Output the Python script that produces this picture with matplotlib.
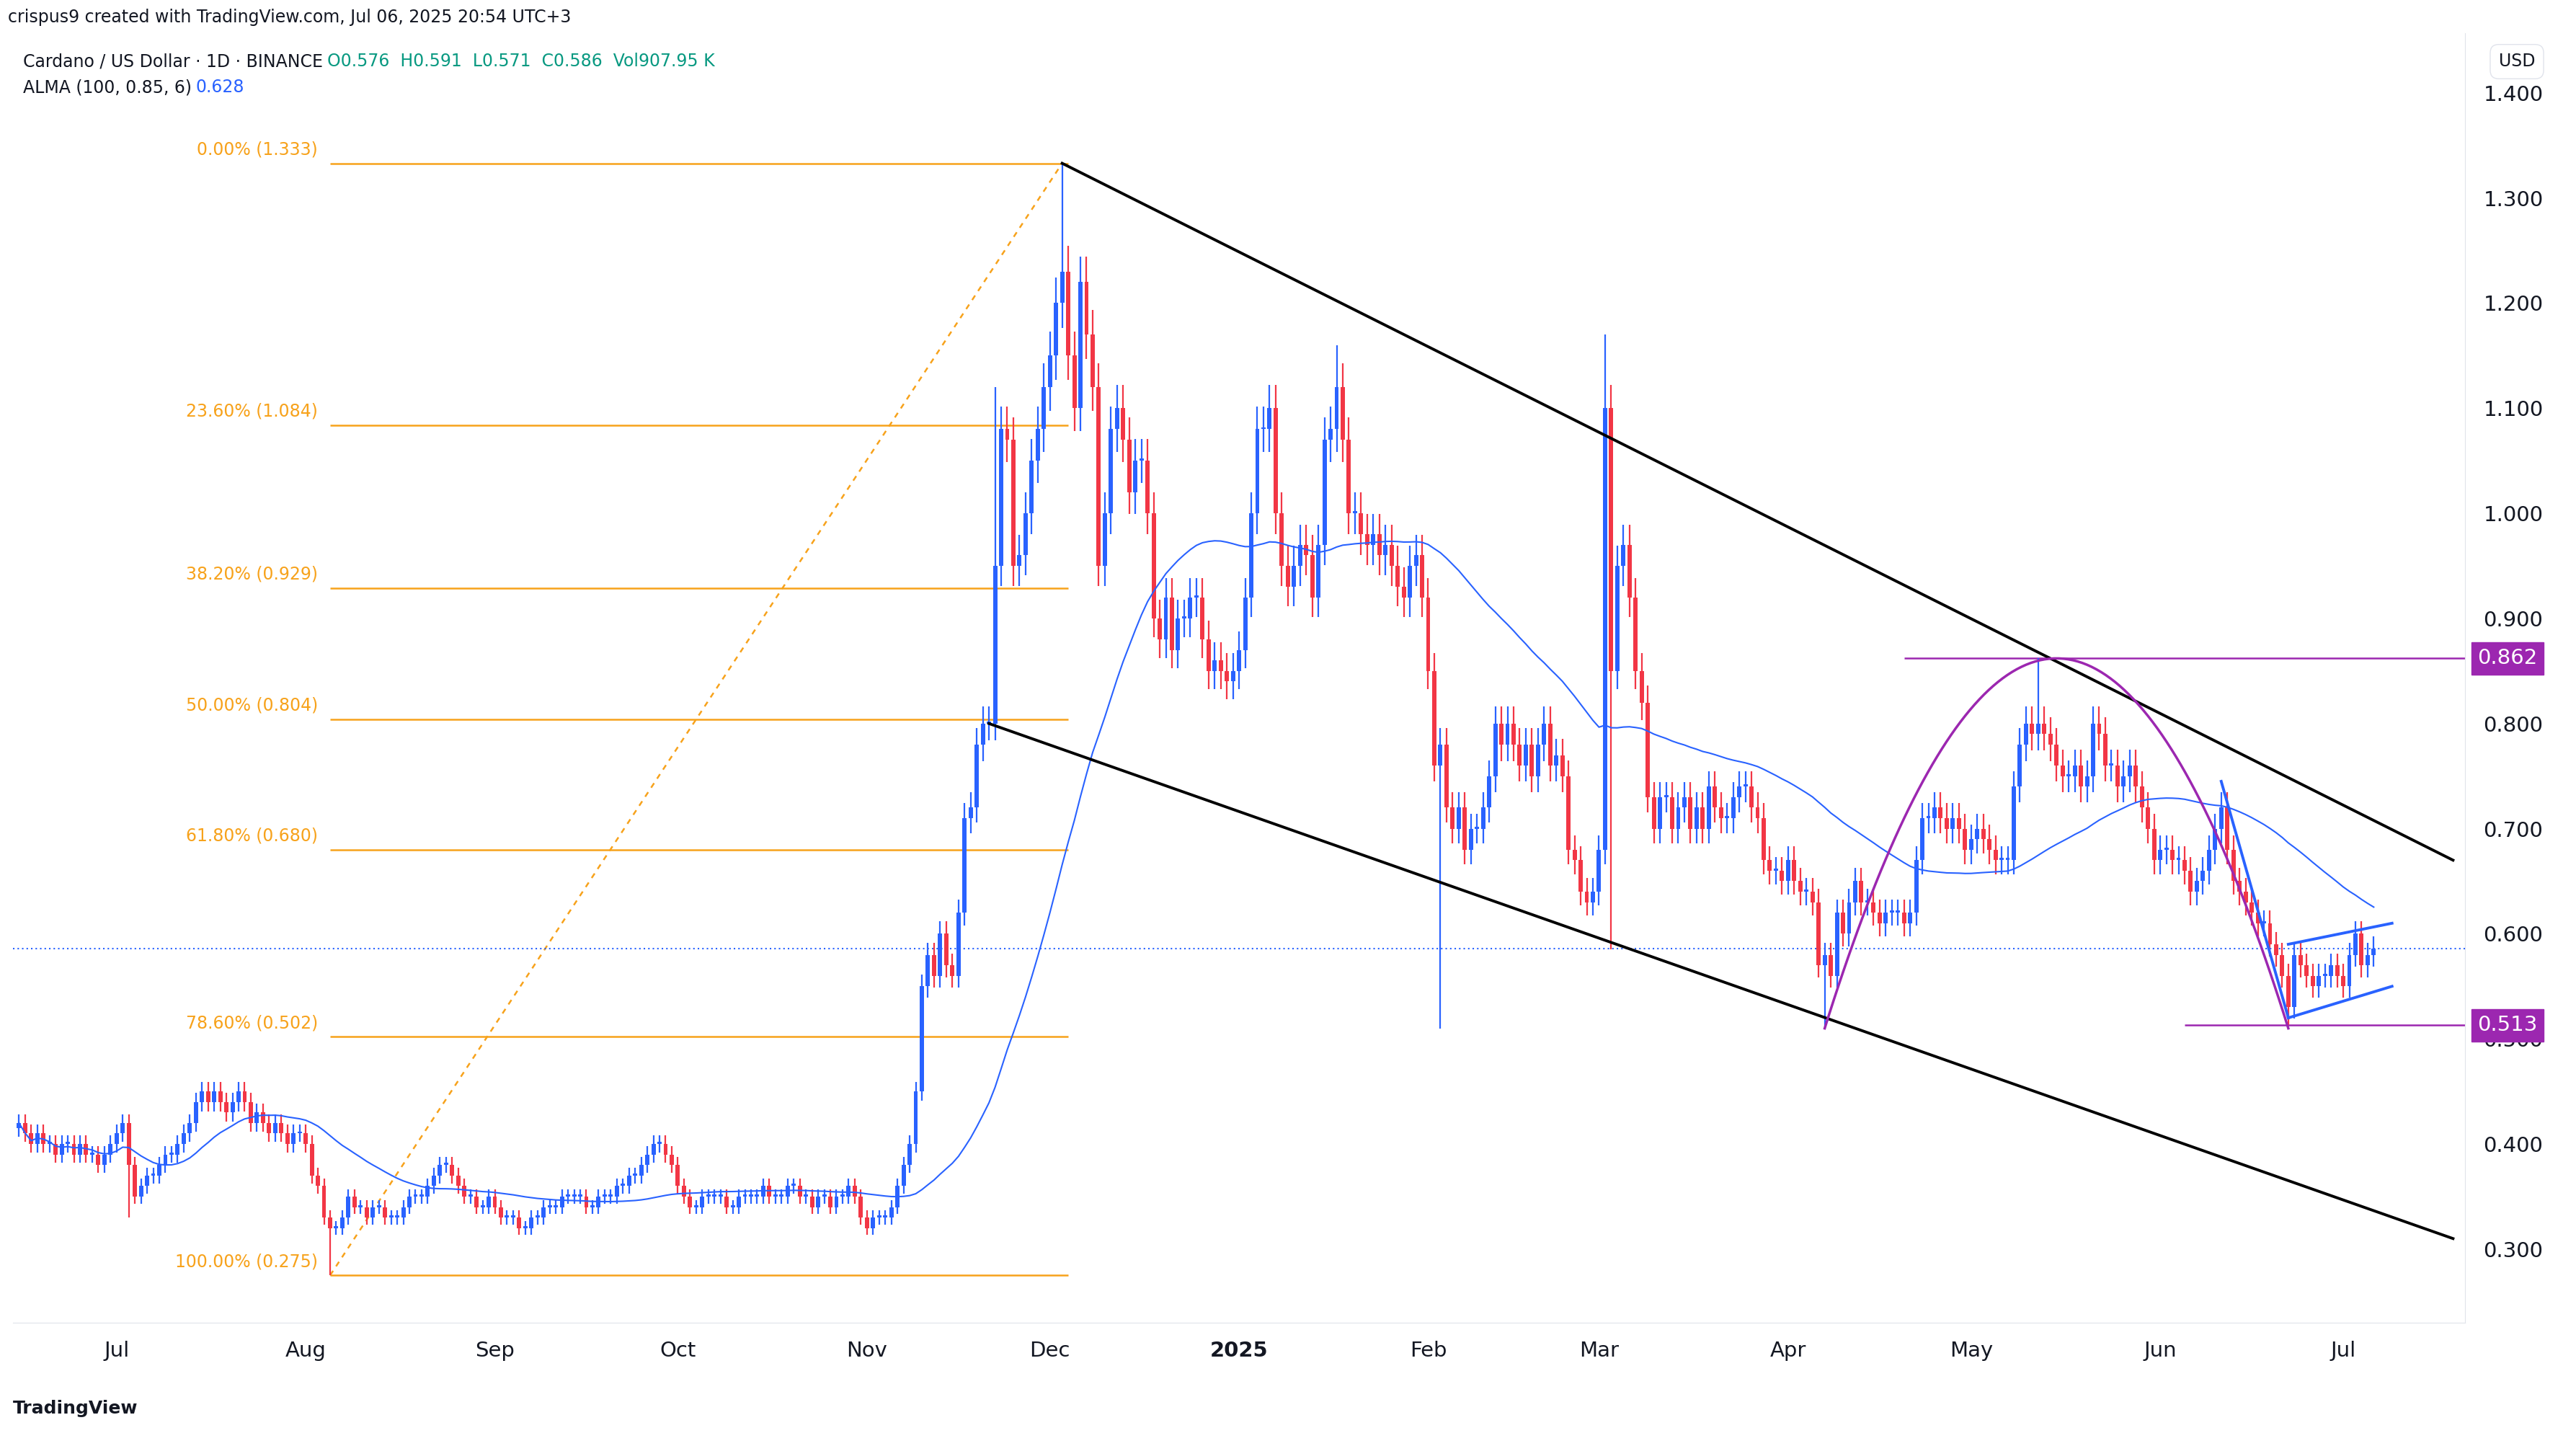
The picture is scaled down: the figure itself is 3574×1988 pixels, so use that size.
import numpy as np, pandas as pd, matplotlib
matplotlib.use("Agg")
import matplotlib.pyplot as plt, matplotlib.dates as mdates

# daily closes per month (start date, values)
months = [
 ("2024-06-15",[.42,.41,.40,.41,.40,.40,.39,.40,.40,.39,.40,.39,.39,.38,.39,.40]),
 ("2024-07-01",[.41,.42,.38,.35,.36,.37,.37,.38,.39,.39,.40,.41,.42,.44,.45,.44,.45,.44,.43,.44,.45,.44,.42,.43,.42,.41,.42,.41,.40,.41,.41]),
 ("2024-08-01",[.40,.37,.36,.33,.32,.32,.33,.35,.34,.34,.33,.34,.34,.33,.33,.33,.34,.35,.35,.35,.36,.37,.38,.38,.37,.36,.35,.35,.34,.34,.35]),
 ("2024-09-01",[.34,.33,.33,.33,.32,.32,.33,.33,.34,.34,.34,.35,.35,.35,.35,.34,.34,.35,.35,.35,.36,.36,.37,.37,.38,.39,.40,.40,.39,.38]),
 ("2024-10-01",[.36,.35,.34,.34,.35,.35,.35,.35,.34,.34,.35,.35,.35,.35,.36,.35,.35,.35,.36,.36,.35,.35,.34,.35,.35,.34,.35,.35,.36,.35,.33]),
 ("2024-11-01",[.32,.33,.33,.33,.34,.36,.38,.40,.45,.55,.58,.56,.60,.57,.56,.62,.71,.72,.78,.80,.80,.95,1.08,1.07,.95,.96,1.0,1.05,1.08,1.12]),
 ("2024-12-01",[1.15,1.20,1.23,1.15,1.10,1.22,1.17,1.12,.95,1.0,1.08,1.10,1.07,1.02,1.05,1.05,1.0,.90,.88,.92,.87,.90,.90,.92,.92,.88,.85,.86,.85,.84,.85]),
 ("2025-01-01",[.87,.92,1.0,1.08,1.08,1.10,1.0,.95,.93,.95,.97,.96,.92,.97,1.07,1.08,1.12,1.07,1.0,1.0,.98,.97,.98,.96,.97,.95,.93,.92,.95,.96,.92]),
 ("2025-02-01",[.85,.76,.78,.72,.70,.72,.68,.70,.70,.72,.75,.80,.78,.80,.78,.76,.78,.75,.78,.80,.76,.77,.75,.68,.67,.64,.63,.64]),
 ("2025-03-01",[.68,1.10,.85,.95,.97,.92,.85,.82,.73,.70,.73,.73,.70,.72,.73,.70,.72,.70,.74,.72,.71,.71,.73,.74,.74,.72,.71,.67,.66,.66,.65]),
 ("2025-04-01",[.67,.65,.64,.64,.63,.57,.58,.56,.62,.60,.63,.65,.63,.63,.62,.61,.62,.62,.62,.61,.62,.67,.71,.71,.72,.71,.70,.71,.70,.68]),
 ("2025-05-01",[.69,.70,.69,.68,.67,.67,.67,.74,.78,.80,.79,.80,.79,.78,.76,.75,.75,.76,.74,.75,.80,.79,.76,.76,.74,.75,.76,.74,.72,.70,.67]),
 ("2025-06-01",[.68,.68,.67,.67,.66,.64,.65,.66,.68,.70,.72,.68,.65,.64,.63,.62,.61,.61,.59,.58,.56,.53,.58,.57,.56,.55,.56,.56,.57,.56]),
 ("2025-07-01",[.55,.58,.60,.57,.58,.586]),
]
wick_high = {"2024-12-03":1.333,"2025-03-02":1.17,"2025-05-12":0.862,"2024-11-22":1.12,"2025-01-17":1.16}
wick_low = {"2024-08-05":0.275,"2025-02-03":0.51,"2025-04-07":0.51,"2025-06-22":0.513,"2025-03-03":0.585,"2024-07-03":0.33}
fib_levels = [1.333,1.084,0.929,0.804,0.680,0.502,0.275]
fib_labels = ["0.00%","23.60%","38.20%","50.00%","61.80%","78.60%","100.00%"]

dates=[];closes=[]
for s,v in months:
    dates+=list(pd.date_range(s,periods=len(v)));closes+=v
closes=np.array(closes);x=mdates.date2num(dates)
opens=np.r_[closes[0]-0.005,closes[:-1]]
hi=np.maximum(opens,closes)*1.02;lo=np.minimum(opens,closes)*0.98
for k,v in wick_high.items():
    i=dates.index(pd.Timestamp(k));hi[i]=v
for k,v in wick_low.items():
    i=dates.index(pd.Timestamp(k));lo[i]=v

def alma(c,n=100,off=0.85,sig=6):
    out=[]
    for i in range(len(c)):
        w=c[max(0,i-n+1):i+1];m=len(w);mm=off*(m-1);s=m/sig
        k=np.exp(-((np.arange(m)-mm)**2)/(2*s*s));out.append((k*w).sum()/k.sum())
    return np.array(out)
al=alma(closes)

fig=plt.figure(figsize=(35.74,19.88),dpi=100)
ax=fig.add_axes([0.005,0.077,0.952,0.9])
d=lambda s:mdates.date2num(pd.Timestamp(s))
ax.set_xlim(d("2024-06-14"),d("2025-07-21"));ax.set_ylim(0.23,1.457)
up="#2962FF";dn="#F23645"
for xi,o,c,h,l in zip(x,opens,closes,hi,lo):
    col=up if c>=o else dn
    ax.vlines(xi,l,h,color=col,lw=1.6,zorder=3)
    ax.bar(xi,max(abs(c-o),0.002),bottom=min(o,c),width=0.7,color=col,zorder=3)
ax.plot(x,al,color="#2962FF",lw=1.5,zorder=4)
orange="#F7A21B"
fx0,fx1=d("2024-08-05"),d("2024-12-04")
for lv,lb in zip(fib_levels,fib_labels):
    ax.hlines(lv,fx0,fx1,color=orange,lw=1.8,zorder=2)
    ax.text(fx0-2,lv+0.005,f"{lb} ({lv:.3f})",color=orange,fontsize=17,ha="right",va="bottom")
ax.plot([fx0,d("2024-12-03")],[0.275,1.333],color=orange,ls=(0,(3,3)),lw=1.8)
ax.plot([d("2024-12-03"),d("2025-07-19")],[1.333,0.67],color="black",lw=2.8,zorder=5)
ax.plot([d("2024-11-21"),d("2025-07-19")],[0.80,0.31],color="black",lw=2.8,zorder=5)
pur="#9C27B0"
ax.hlines(0.862,d("2025-04-20"),d("2025-07-21"),color=pur,lw=1.8)
ax.hlines(0.513,d("2025-06-05"),d("2025-07-21"),color=pur,lw=1.8)
a0,a1=d("2025-04-07"),d("2025-06-22");tm=(a0+a1)/2
t=np.linspace(a0,a1,100)
ax.plot(t,0.862-(0.862-0.51)*((t-tm)/(tm-a0))**2,color=pur,lw=2.5,zorder=5)
bl="#2962FF"
ax.plot([d("2025-06-11"),d("2025-06-22")],[0.745,0.52],color=bl,lw=2.8,zorder=5)
ax.plot([d("2025-06-22"),d("2025-07-09")],[0.59,0.61],color=bl,lw=2.8,zorder=5)
ax.plot([d("2025-06-22"),d("2025-07-09")],[0.52,0.55],color=bl,lw=2.8,zorder=5)
ax.axhline(0.586,color=bl,ls=(0,(1,2)),lw=1.5)
ax.yaxis.tick_right()
ax.set_yticks(np.arange(0.3,1.41,0.1))
ax.set_yticklabels([f"{v:.3f}" for v in np.arange(0.3,1.41,0.1)],fontsize=21,color="#131722")
ticks=["2024-07-01","2024-08-01","2024-09-01","2024-10-01","2024-11-01","2024-12-01","2025-01-01","2025-02-01","2025-03-01","2025-04-01","2025-05-01","2025-06-01","2025-07-01"]
ax.set_xticks([d(s) for s in ticks])
ax.set_xticklabels(["Jul","Aug","Sep","Oct","Nov","Dec","2025","Feb","Mar","Apr","May","Jun","Jul"],fontsize=21,color="#131722")
ax.get_xticklabels()[6].set_fontweight("bold")
ax.tick_params(length=0,pad=18)
for s in ["top","left"]:ax.spines[s].set_visible(False)
for s in ["bottom","right"]:ax.spines[s].set_color("#E0E3EB")
for v in [0.862,0.513]:
    ax.text(1.005,v,f"{v:.3f}",transform=ax.get_yaxis_transform(),fontsize=21,color="white",va="center",ha="left",
            bbox=dict(boxstyle="square,pad=0.3",fc=pur,ec=pur),zorder=10)
fig.text(0.003,0.988,"crispus9 created with TradingView.com, Jul 06, 2025 20:54 UTC+3",fontsize=17,va="center",color="#131722")
fig.text(0.009,0.957,"Cardano / US Dollar · 1D · BINANCE",fontsize=17,va="center",color="#131722")
fig.text(0.127,0.957,"O0.576  H0.591  L0.571  C0.586  Vol907.95 K",fontsize=17,va="center",color="#089981")
fig.text(0.009,0.939,"ALMA (100, 0.85, 6)",fontsize=17,va="center",color="#131722")
fig.text(0.076,0.939,"0.628",fontsize=17,va="center",color="#2962FF")
fig.text(0.97,0.957,"USD",fontsize=17,va="center",color="#131722",bbox=dict(boxstyle="round,pad=0.5",fc="white",ec="#E0E3EB"))
fig.text(0.005,0.017,"TradingView",fontsize=18,va="center",color="#131722",fontweight="bold")
fig.savefig("out.png",dpi=100,facecolor="white")
